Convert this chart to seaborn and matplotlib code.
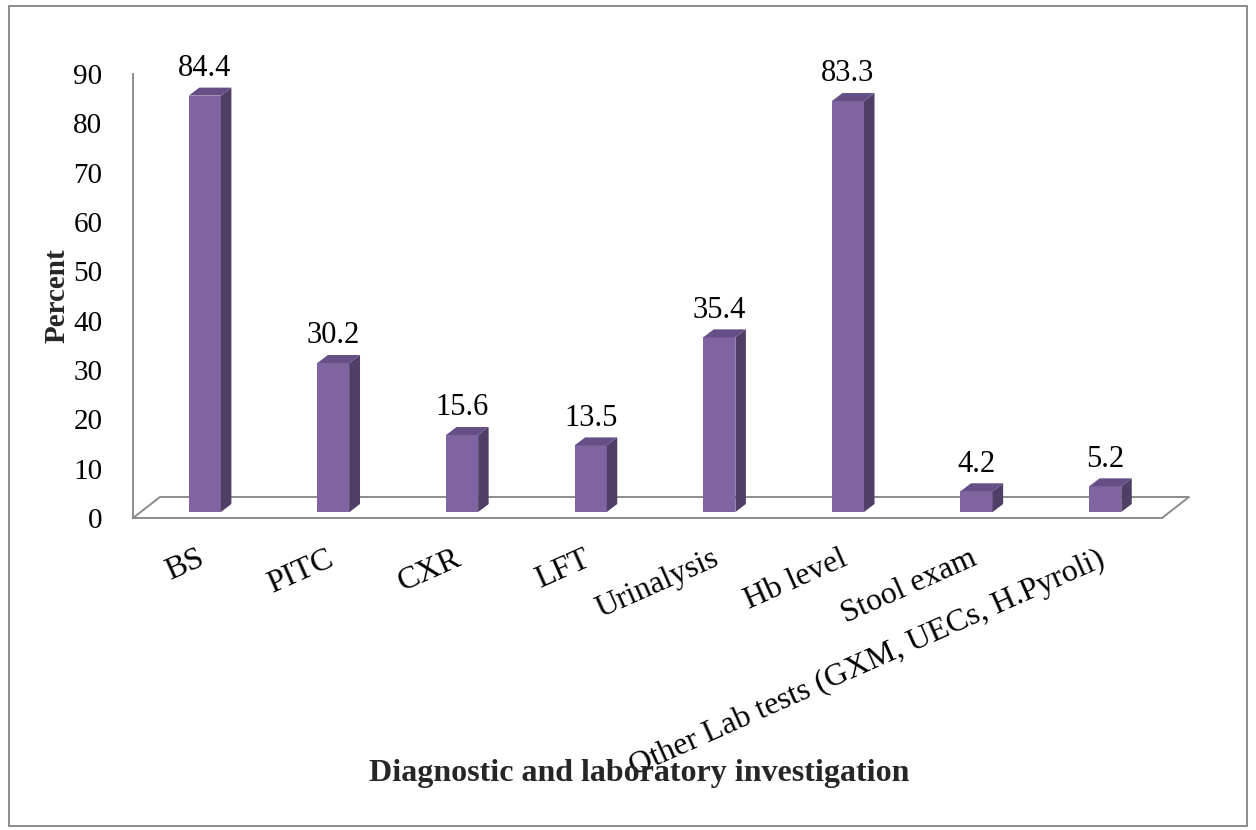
import matplotlib
matplotlib.use("Agg")
import matplotlib.pyplot as plt
import matplotlib.transforms as mtransforms
from matplotlib.patches import Polygon, Rectangle
from matplotlib.lines import Line2D
import seaborn as sns
import pandas as pd

# Share of patients who received each investigation (%)
categories = ["BS", "PITC", "CXR", "LFT", "Urinalysis", "Hb level",
              "Stool exam", "Other Lab tests (GXM, UECs, H.Pyroli)"]
percent = [84.4, 30.2, 15.6, 13.5, 35.4, 83.3, 4.2, 5.2]
y_ticks = [0, 10, 20, 30, 40, 50, 60, 70, 80, 90]

sns.set_style("white")
plt.rcParams["font.family"] = ["Liberation Serif", "DejaVu Serif"]

W, H, DPI = 1256, 830, 100
fig = plt.figure(figsize=(W / DPI, H / DPI), dpi=DPI)
fig.patch.set_facecolor("white")

# plot area in pixels: front floor edge and value axis
ax_l, ax_r, ax_b, ax_t = 133, 1162, 518, 74
ax = fig.add_axes([ax_l / W, 1 - ax_b / H, (ax_r - ax_l) / W, (ax_b - ax_t) / H])
ax.set_facecolor("none")

front = "#8064A2"
side = "#4F3E66"
top = "#664F86"
grey = "#8C8C8C"

df = pd.DataFrame({"test": categories, "percent": percent})
sns.barplot(data=df, x="test", y="percent", order=categories, color=front,
            width=0.25, saturation=1, ax=ax, zorder=3, edgecolor="none")

ax.set_xlim(-0.5, len(categories) - 0.5)
ax.set_ylim(y_ticks[0], y_ticks[-1])

px_x = (ax_r - ax_l) / (len(categories))           # pixels per category
px_y = (ax_b - ax_t) / (y_ticks[-1] - y_ticks[0])  # pixels per percent

# 3-D look: bars sit a little behind the front floor edge
shift = mtransforms.ScaledTranslation(7.5 / DPI, 6 / DPI, fig.dpi_scale_trans)
bar_tr = ax.transData + shift
depth_x, depth_y = 10.5 / px_x, 8 / px_y

for p in ax.patches:
    p.set_transform(bar_tr)
    x0, w, h = p.get_x(), p.get_width(), p.get_height()
    ax.add_patch(Polygon([(x0 + w, 0), (x0 + w, h), (x0 + w + depth_x, h + depth_y),
                          (x0 + w + depth_x, depth_y)], closed=True,
                         facecolor=side, edgecolor="none", transform=bar_tr,
                         zorder=3, clip_on=False))
    ax.add_patch(Polygon([(x0, h), (x0 + w, h), (x0 + w + depth_x, h + depth_y),
                          (x0 + depth_x, h + depth_y)], closed=True,
                         facecolor=top, edgecolor="none", transform=bar_tr,
                         zorder=3, clip_on=False))

# floor outline behind the bars
fx, fy = 27 / px_x, 21 / px_y
x_lo, x_hi = ax.get_xlim()
ax.add_line(Line2D([x_lo, x_lo + fx, x_hi + fx, x_hi], [0, fy, fy, 0],
                   color=grey, lw=1.4, zorder=1, clip_on=False))

# value labels
for cont in ax.containers:
    anns = ax.bar_label(cont, fmt="%.1f", padding=13.5, fontsize=22, color="black")
    for a in anns:
        a.xyann = (5.4, 13.5)

# axes styling
for s in ["top", "right"]:
    ax.spines[s].set_visible(False)
for s in ["left", "bottom"]:
    ax.spines[s].set_color(grey)
    ax.spines[s].set_linewidth(1.4)
    ax.spines[s].set_zorder(2)

ax.set_yticks(y_ticks)
ax.set_yticklabels([str(t) for t in y_ticks])
ax.tick_params(axis="y", direction="out", length=8, width=1.4, color=grey,
               pad=14, labelsize=21, labelcolor="black")

n = len(categories)
ax.set_xticks([i - 0.5 for i in range(n + 1)])
ax.set_xticklabels([])
ax.set_xticks(list(range(n)), minor=True)
ax.set_xticklabels(categories, minor=True)
ax.tick_params(axis="x", which="major", direction="inout", length=13.5, width=1.4,
               color=grey)
ax.tick_params(axis="x", which="minor", direction="in", length=5, width=1.4,
               color=grey, pad=19, labelsize=23, labelcolor="black")
plt.setp(ax.get_xticklabels(minor=True), rotation=24, ha="right",
         rotation_mode="anchor")

ax.set_ylabel("Percent", fontsize=21, fontweight="bold")
ax.yaxis.set_label_coords((71 - ax_l) / (ax_r - ax_l), 0.5)
ax.set_xlabel("Diagnostic and laboratory investigation", fontsize=23,
              fontweight="bold")
ax.xaxis.set_label_coords((639 - ax_l) / (ax_r - ax_l), (ax_b - 759) / (ax_b - ax_t))

# chart frame
fig.patches.append(Rectangle((9 / W, 4 / H), (1247 - 9) / W, (826 - 6) / H,
                             transform=fig.transFigure, fill=False,
                             edgecolor=grey, lw=1.4))

fig.savefig("out.png", dpi=DPI)
